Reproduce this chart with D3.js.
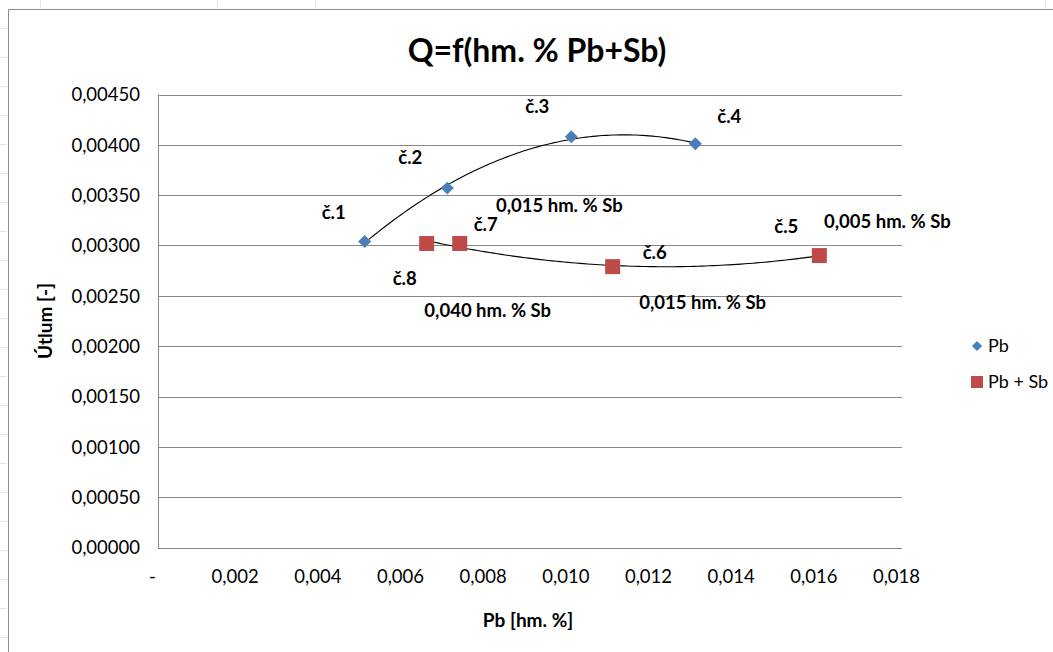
<!doctype html>
<html>
<head>
<meta charset="utf-8">
<title>Q=f(hm. % Pb+Sb)</title>
<script src="https://d3js.org/d3.v7.min.js"></script>
<style>
  body { margin: 0; background: #fff; }
  svg { display: block; }
  text { font-family: Lato, "Open Sans", sans-serif; fill: #000; }
  .tick line { display: none; }
  .domain { display: none; }
</style>
</head>
<body>
<svg></svg>
<script>
// ---- data ----
var pbX   = [0.0050, 0.0070, 0.0100, 0.0130];
var pbY   = [0.00304, 0.00357, 0.00408, 0.00401];
var pbNames = ["č.1", "č.2", "č.3", "č.4"];

var pbsbX = [0.0160, 0.0110, 0.0073, 0.0065];
var pbsbY = [0.00290, 0.00279, 0.00302, 0.00302];
var pbsbNames = ["č.5", "č.6", "č.7", "č.8"];

var sbNotes = ["0,015 hm. % Sb", "0,005 hm. % Sb", "0,015 hm. % Sb", "0,040 hm. % Sb"];

var xTicks = [0, 0.002, 0.004, 0.006, 0.008, 0.010, 0.012, 0.014, 0.016, 0.018];
var xTickLabels = ["-", "0,002", "0,004", "0,006", "0,008", "0,010", "0,012", "0,014", "0,016", "0,018"];
var yTicks = [0, 0.0005, 0.001, 0.0015, 0.002, 0.0025, 0.003, 0.0035, 0.004, 0.0045];
var yTickLabels = ["0,00000", "0,00050", "0,00100", "0,00150", "0,00200", "0,00250", "0,00300", "0,00350", "0,00400", "0,00450"];

var seriesNames = ["Pb", "Pb + Sb"];

// ---- layout ----
var w = 1053, h = 652;
var plotLeft = 158, plotRight = 902, plotTop = 94.5, plotBottom = 547.5;
var blue = "#4a7ebb", red = "#be4b48", grid = "#888888";

var svg = d3.select("svg").attr("width", w).attr("height", h);

var x = d3.scaleLinear().domain([0, 0.018]).range([plotLeft, plotRight]);
var y = d3.scaleLinear().domain([0, 0.0045]).range([plotBottom, plotTop]);

// chart area frame + a few sheet marks peeking out
svg.append("path")
    .attr("d", "M8.5," + h + "V9.5H" + w)
    .attr("fill", "none").attr("stroke", "#8c8c8c");
[40, 217, 315, 1045].forEach(function(px) {
    svg.append("line").attr("x1", px + 0.5).attr("x2", px + 0.5)
        .attr("y1", 0).attr("y2", 8).attr("stroke", "#e4e4e4");
});
d3.range(28, h, 29).forEach(function(py) {
    svg.append("line").attr("x1", 0).attr("x2", 7)
        .attr("y1", py + 0.5).attr("y2", py + 0.5).attr("stroke", "#e4e4e4");
});

// gridlines
svg.append("g").selectAll("line")
    .data(yTicks)
    .enter().append("line")
    .attr("x1", plotLeft).attr("x2", plotRight)
    .attr("y1", function(d) { return Math.round(y(d)) + 0.5; })
    .attr("y2", function(d) { return Math.round(y(d)) + 0.5; })
    .attr("stroke", grid);

svg.append("line")
    .attr("x1", plotLeft + 0.5).attr("x2", plotLeft + 0.5)
    .attr("y1", y(0.0045)).attr("y2", y(0) + 1)
    .attr("stroke", grid);

// axes
var yAxis = d3.axisLeft(y)
    .tickValues(yTicks)
    .tickFormat(function(d, i) { return yTickLabels[i]; })
    .tickSize(0).tickPadding(18);
svg.append("g")
    .attr("transform", "translate(" + plotLeft + ",0)")
    .call(yAxis)
    .selectAll("text").style("font-size", "18.5px").attr("dy", "0.34em");

var xAxis = d3.axisBottom(x)
    .tickValues(xTicks)
    .tickFormat(function(d, i) { return xTickLabels[i]; })
    .tickSize(0).tickPadding(22);
svg.append("g")
    .attr("transform", "translate(0," + plotBottom + ")")
    .call(xAxis)
    .selectAll("text").style("font-size", "18.5px").attr("dx", -6);

// titles
svg.append("text").attr("x", 537).attr("y", 62)
    .attr("text-anchor", "middle")
    .style("font-size", "32px").style("font-weight", "bold")
    .text("Q=f(hm. % Pb+Sb)");

svg.append("text").attr("x", 528).attr("y", 627)
    .attr("text-anchor", "middle")
    .style("font-size", "19px").style("font-weight", "bold")
    .text("Pb [hm. %]");

svg.append("text")
    .attr("transform", "translate(52,321) rotate(-90)")
    .attr("text-anchor", "middle")
    .style("font-size", "19px").style("font-weight", "bold")
    .text("Útlum [-]");

// quadratic least-squares trendline (like Excel polynomial order 2)
function quadFit(xs, ys) {
    var s = [0, 0, 0, 0, 0], t = [0, 0, 0];
    xs.forEach(function(xv, i) {
        var u = xv * 1000;
        for (var k = 0; k < 5; k++) s[k] += Math.pow(u, k);
        for (var k2 = 0; k2 < 3; k2++) t[k2] += ys[i] * Math.pow(u, k2);
    });
    var A = [[s[0], s[1], s[2], t[0]], [s[1], s[2], s[3], t[1]], [s[2], s[3], s[4], t[2]]];
    for (var c = 0; c < 3; c++) {
        for (var r = c + 1; r < 3; r++) {
            var f = A[r][c] / A[c][c];
            for (var j = c; j < 4; j++) A[r][j] -= f * A[c][j];
        }
    }
    var b = [0, 0, 0];
    for (var r2 = 2; r2 >= 0; r2--) {
        var v = A[r2][3];
        for (var j2 = r2 + 1; j2 < 3; j2++) v -= A[r2][j2] * b[j2];
        b[r2] = v / A[r2][r2];
    }
    return function(xv) { var u = xv * 1000; return b[0] + b[1] * u + b[2] * u * u; };
}

var line = d3.line().x(function(d) { return x(d[0]); }).y(function(d) { return y(d[1]); });

[[pbX, pbY], [pbsbX, pbsbY]].forEach(function(s) {
    var fit = quadFit(s[0], s[1]);
    var ext = d3.extent(s[0]);
    var pts = d3.range(0, 101).map(function(i) {
        var xv = ext[0] + (ext[1] - ext[0]) * i / 100;
        return [xv, fit(xv)];
    });
    svg.append("path").attr("d", line(pts))
        .attr("fill", "none").attr("stroke", "#000").attr("stroke-width", 1.1);
});

// markers
var diamond = d3.symbol().type(d3.symbolSquare).size(84);
svg.append("g").selectAll("path")
    .data(pbX)
    .enter().append("path")
    .attr("d", diamond)
    .attr("transform", function(d, i) { return "translate(" + x(d) + "," + y(pbY[i]) + ") rotate(45)"; })
    .attr("fill", blue);

svg.append("g").selectAll("rect")
    .data(pbsbX)
    .enter().append("rect")
    .attr("x", function(d) { return x(d) - 7.5; })
    .attr("y", function(d, i) { return y(pbsbY[i]) - 7.5; })
    .attr("width", 15).attr("height", 15)
    .attr("fill", red);

// data labels (hand-placed offsets, like in the sheet)
var pbOff = [[-31, -29], [-37, -31], [-34, -30], [34, -27]];
var pbsbOff = [[-33, -29], [42, -14], [26, -19], [-22, 35]];

function label(px, py, txt) {
    svg.append("text").attr("x", px).attr("y", py).attr("dy", "0.35em")
        .attr("text-anchor", "middle")
        .style("font-size", "18.5px").style("font-weight", "bold")
        .text(txt);
}
pbNames.forEach(function(n, i) { label(x(pbX[i]) + pbOff[i][0], y(pbY[i]) + pbOff[i][1], n); });
pbsbNames.forEach(function(n, i) { label(x(pbsbX[i]) + pbsbOff[i][0], y(pbsbY[i]) + pbsbOff[i][1], n); });

// Sb notes anchored to: č.3, č.5, č.6, č.7
var noteAnchor = [[pbX[2], pbY[2]], [pbsbX[0], pbsbY[0]], [pbsbX[1], pbsbY[1]], [pbsbX[2], pbsbY[2]]];
var noteOff = [[-12, 69], [68, -34], [90, 36], [28, 67]];
sbNotes.forEach(function(n, i) {
    label(x(noteAnchor[i][0]) + noteOff[i][0], y(noteAnchor[i][1]) + noteOff[i][1], n);
});

// legend
var lg = svg.append("g").attr("transform", "translate(977,346)");
lg.append("path").attr("d", d3.symbol().type(d3.symbolSquare).size(52))
    .attr("transform", "rotate(45)").attr("fill", blue);
lg.append("rect").attr("x", -6).attr("y", 30).attr("width", 12).attr("height", 12).attr("fill", red);
lg.selectAll("text")
    .data(seriesNames)
    .enter().append("text")
    .attr("x", 11)
    .attr("y", function(d, i) { return i * 36; })
    .attr("dy", "0.35em")
    .style("font-size", "18px")
    .text(function(d) { return d; });
</script>
</body>
</html>
